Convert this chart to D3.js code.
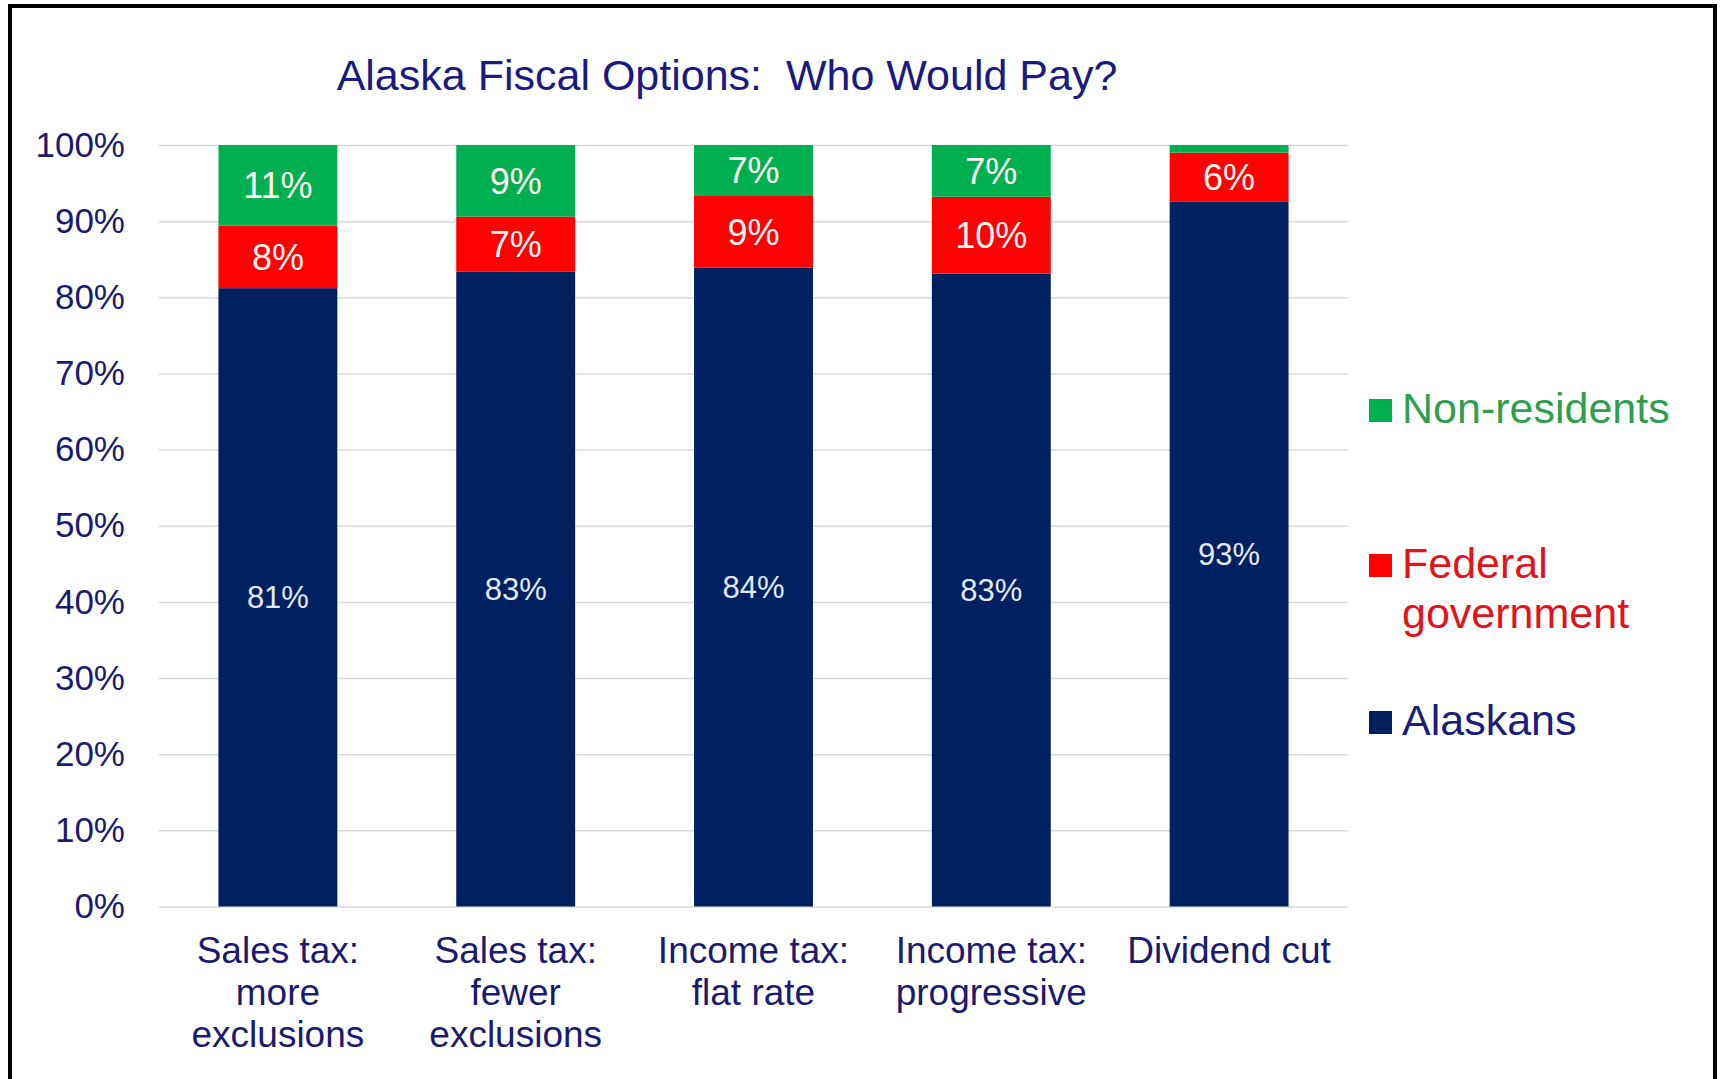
<!DOCTYPE html>
<html>
<head>
<meta charset="utf-8">
<script src="https://cdn.jsdelivr.net/npm/d3@7"></script>
<style>
  html, body { margin: 0; padding: 0; background: #ffffff; }
  svg { display: block; }
  text { font-family: "Liberation Sans", Arial, sans-serif; }
</style>
</head>
<body>
<svg id="chart" width="1723" height="1079"></svg>
<script>
// ---- data ----
const categories = [
  ["Sales tax:", "more", "exclusions"],
  ["Sales tax:", "fewer", "exclusions"],
  ["Income tax:", "flat rate"],
  ["Income tax:", "progressive"],
  ["Dividend cut"]
];
const seriesNames = ["Alaskans", "Federal government", "Non-residents"];
const alaskans     = [81.2, 83.4, 83.9, 83.1, 92.6];
const federal      = [8.2, 7.2, 9.4, 10.1, 6.4];
const nonResidents = [10.6, 9.4, 6.7, 6.8, 1.0];
const yTicks = [0, 10, 20, 30, 40, 50, 60, 70, 80, 90, 100];
const legendLabels = [["Non-residents"], ["Federal", "government"], ["Alaskans"]];

// ---- styles ----
const colors = { "Alaskans": "#002060", "Federal government": "#ff0000", "Non-residents": "#00b050" };
const legendText = { "Alaskans": "#1c1c7a", "Federal government": "#e0141a", "Non-residents": "#2f9e4f" };
const navyText = "#1a1a6e";

const svg = d3.select("#chart");
const W = 1723, H = 1079;
const m = { left: 159, right: W - 1348, top: 145, bottom: H - 906.5 };
const iw = W - m.left - m.right, ih = H - m.top - m.bottom;

// frame
svg.append("rect").attr("x", 10).attr("y", 6).attr("width", 1705).attr("height", 1100)
  .attr("fill", "none").attr("stroke", "#000").attr("stroke-width", 4);

const g = svg.append("g").attr("transform", `translate(${m.left},${m.top})`);

const x = d3.scaleBand().domain(d3.range(categories.length)).range([0, iw]).paddingInner(0.5).paddingOuter(0.25);
const y = d3.scaleLinear().domain([0, 100]).range([ih, 0]);

// gridlines + y labels
const yAxis = d3.axisLeft(y).tickValues(yTicks).tickSize(-iw).tickPadding(34).tickFormat(d => d + "%");
const ya = g.append("g").call(yAxis);
ya.select(".domain").remove();
ya.selectAll(".tick line").attr("stroke", "#d9d9d9").attr("stroke-width", 1.5);
ya.selectAll(".tick text").attr("fill", navyText).style("font-size", "35px")
  .style("font-family", '"Liberation Sans", Arial, sans-serif').attr("dy", "0.32em");

// stack
const rows = categories.map((c, i) => ({ i, "Alaskans": alaskans[i], "Federal government": federal[i], "Non-residents": nonResidents[i] }));
const stack = d3.stack().keys(seriesNames)(rows);

const layers = g.selectAll(".layer").data(stack).enter().append("g")
  .attr("fill", d => colors[d.key]);
layers.selectAll("rect").data(d => d).enter().append("rect")
  .attr("x", d => x(d.data.i))
  .attr("width", x.bandwidth())
  .attr("y", d => y(d[1]))
  .attr("height", d => y(d[0]) - y(d[1]));

// value labels
stack.forEach(layer => {
  const isNavy = layer.key === "Alaskans";
  g.append("g").selectAll("text").data(layer.filter(d => d[1] - d[0] >= 2)).enter().append("text")
    .attr("x", d => x(d.data.i) + x.bandwidth() / 2)
    .attr("y", d => (y(d[0]) + y(d[1])) / 2)
    .attr("dy", "0.36em")
    .attr("text-anchor", "middle")
    .attr("fill", isNavy ? "#e3eaf6" : "#fdf6f0")
    .style("font-size", isNavy ? "31px" : "36px")
    .text(d => Math.round(d[1] - d[0]) + "%");
});

// x labels
const xl = g.append("g");
categories.forEach((lines, i) => {
  const t = xl.append("text").attr("text-anchor", "middle").attr("fill", navyText)
    .style("font-size", "37px")
    .attr("x", x(i) + x.bandwidth() / 2).attr("y", ih + 56);
  lines.forEach((ln, k) => t.append("tspan").attr("x", x(i) + x.bandwidth() / 2).attr("dy", k === 0 ? 0 : 42).text(ln));
});

// title
svg.append("text").attr("x", 727).attr("y", 90).attr("text-anchor", "middle")
  .attr("fill", "#1a1a80").style("font-size", "43px").style("white-space", "pre")
  .attr("xml:space", "preserve")
  .text("Alaska Fiscal Options:  Who Would Pay?");

// legend
const legendKeys = ["Non-residents", "Federal government", "Alaskans"];
const legendBase = [423, 578, 735];
legendKeys.forEach((k, i) => {
  const lg = svg.append("g");
  lg.append("rect").attr("x", 1369).attr("y", legendBase[i] - 24).attr("width", 23).attr("height", 23)
    .attr("fill", colors[k]);
  const t = lg.append("text").attr("x", 1402).attr("y", legendBase[i]).attr("fill", legendText[k])
    .style("font-size", "43px");
  legendLabels[i].forEach((ln, j) => t.append("tspan").attr("x", 1402).attr("dy", j === 0 ? 0 : 50).text(ln));
});
</script>
</body>
</html>
